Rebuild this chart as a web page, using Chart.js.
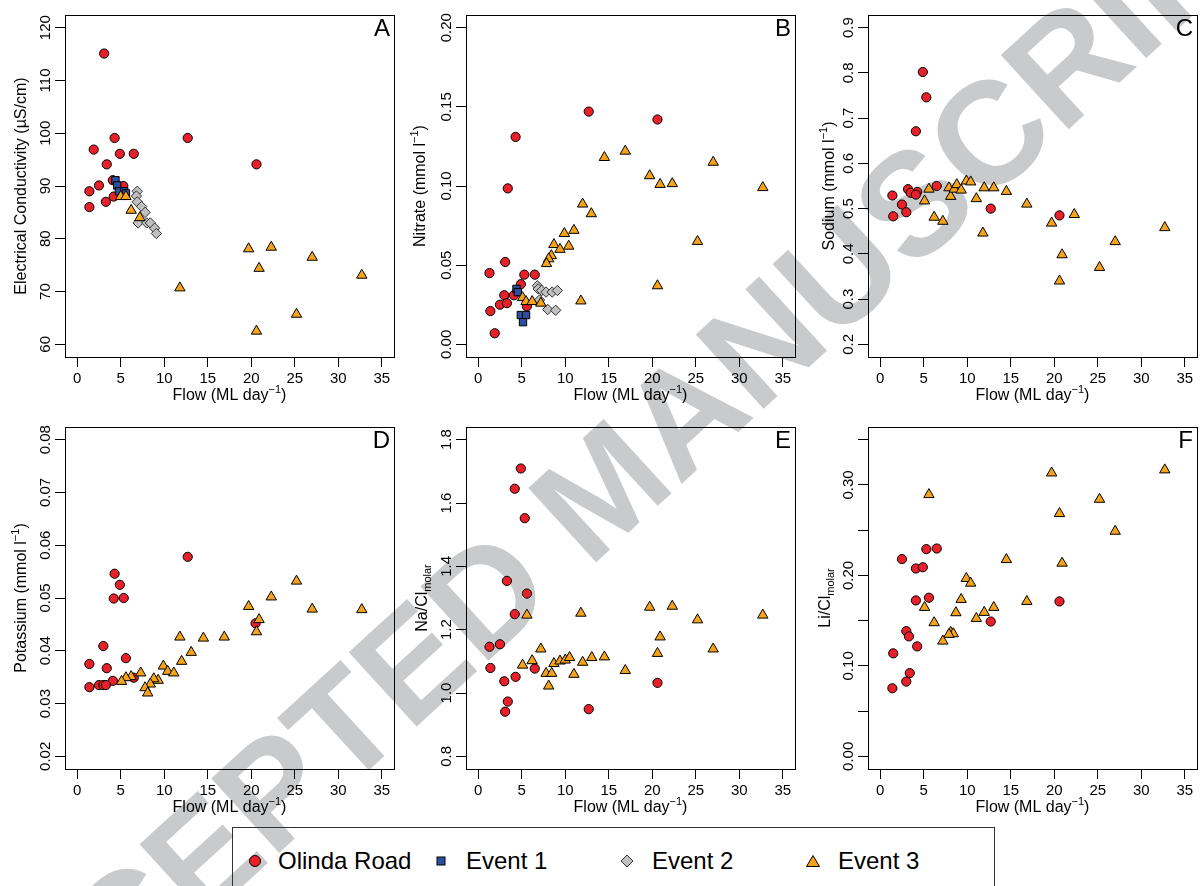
<!DOCTYPE html>
<html>
<head>
<meta charset="utf-8">
<script src="https://cdn.jsdelivr.net/npm/chart.js@4.4.0/dist/chart.umd.min.js"></script>
<style>
  body { margin: 0; background: #fff; width: 1202px; height: 886px; overflow: hidden; position: relative; font-family: "Liberation Sans", Arial, sans-serif; }
  #wm { position: absolute; left: 603px; top: 488px; transform: translate(-50%, -50%) rotate(-42.5deg);
        font: bold 146px "Liberation Sans", Arial, sans-serif; color: #c9cacc; white-space: nowrap; z-index: 0; }
  .panel { position: absolute; z-index: 1; }
  #legend { position: absolute; left: 232px; top: 827px; width: 761px; height: 80px; border: 1px solid #333; z-index: 1; }
  #legend span { position: absolute; top: 33px; transform: translateY(-50%); font-size: 24px; color: #000; white-space: nowrap; }
  #legend svg { position: absolute; top: 33px; transform: translate(-50%, -50%); }
</style>
</head>
<body>
<div id="wm">ACCEPTED MANUSCRIPT</div>

<canvas class="panel" id="pA" width="401" height="412" style="left:0px;top:0px"></canvas>
<canvas class="panel" id="pB" width="401" height="412" style="left:401px;top:0px"></canvas>
<canvas class="panel" id="pC" width="401" height="412" style="left:803px;top:0px"></canvas>
<canvas class="panel" id="pD" width="401" height="412" style="left:0px;top:412px"></canvas>
<canvas class="panel" id="pE" width="401" height="412" style="left:401px;top:412px"></canvas>
<canvas class="panel" id="pF" width="401" height="412" style="left:803px;top:412px"></canvas>

<div id="legend">
  <svg width="14" height="14" style="left:22px"><circle cx="7" cy="7" r="5.5" fill="#e8202a" stroke="#000" stroke-width="1"/></svg>
  <span style="left:45px">Olinda Road</span>
  <svg width="12" height="12" style="left:208px"><rect x="2" y="2" width="8" height="8" fill="#2c4f9e" stroke="#000" stroke-width="1"/></svg>
  <span style="left:233px">Event 1</span>
  <svg width="14" height="14" style="left:394px"><polygon points="7,1 13,7 7,13 1,7" fill="#c0c0c0" stroke="#333" stroke-width="1"/></svg>
  <span style="left:419px">Event 2</span>
  <svg width="16" height="14" style="left:580px"><polygon points="8,1.5 14.5,12.5 1.5,12.5" fill="#f5a31a" stroke="#000" stroke-width="1"/></svg>
  <span style="left:605px">Event 3</span>
</div>

<script>
// flow axis (shared)
var flowTicks = [0, 5, 10, 15, 20, 25, 30, 35];
var flowLabels = ['0', '5', '10', '15', '20', '25', '30', '35'];

// A - electrical conductivity
var olindaA = [[3.1,115.1],[4.3,99.1],[12.7,99.1],[1.9,96.9],[4.9,96.1],[6.5,96.1],[3.4,94.1],[20.6,94.1],[4.1,91.1],[2.5,90.1],[1.4,89.0],[5.3,90.0],[4.2,88.0],[3.3,87.0],[1.4,86.0]];
var event1A = [[4.4,91.1],[4.6,90.1],[4.8,89.0],[5.4,89.0],[5.6,88.6]];
var event2A = [[6.9,89.0],[6.8,88.1],[6.9,87.0],[7.4,86.1],[7.8,85.0],[7.0,83.0],[8.0,83.0],[8.4,83.0],[8.9,82.0],[9.1,81.0]];
var event3A = [[5.0,88.0],[5.6,88.0],[6.2,85.4],[7.2,84.0],[11.8,70.7],[19.7,78.1],[22.3,78.4],[20.9,74.4],[27.0,76.5],[32.7,73.1],[25.2,65.7],[20.6,62.5]];
var ticksA = [60, 70, 80, 90, 100, 110, 120];
var labelsA = ['60', '70', '80', '90', '100', '110', '120'];

// B - nitrate
var olindaB = [[12.7,0.147],[20.6,0.142],[4.3,0.131],[3.4,0.0985],[3.1,0.052],[1.3,0.045],[5.3,0.044],[6.5,0.044],[4.9,0.038],[3.0,0.031],[4.1,0.031],[2.5,0.025],[3.3,0.026],[5.6,0.024],[1.4,0.021],[1.9,0.007]];
var event1B = [[4.4,0.035],[4.55,0.033],[4.9,0.0185],[5.5,0.0185],[5.15,0.014]];
var event2B = [[6.8,0.037],[6.9,0.035],[7.3,0.034],[7.8,0.033],[8.5,0.033],[9.1,0.034],[7.05,0.028],[8.0,0.022],[8.9,0.0215]];
var event3B = [[14.5,0.118],[16.9,0.122],[27.0,0.115],[19.7,0.1065],[20.9,0.101],[22.3,0.1015],[32.7,0.099],[12.0,0.0886],[13.0,0.0825],[9.9,0.070],[11.0,0.072],[8.7,0.063],[9.4,0.060],[10.4,0.062],[8.4,0.056],[8.1,0.054],[7.85,0.051],[25.2,0.065],[20.6,0.037],[11.8,0.0274],[5.1,0.0295],[5.5,0.027],[6.2,0.027],[7.2,0.026]];
var ticksB = [0, 0.05, 0.10, 0.15, 0.20];
var labelsB = ['0.00', '0.05', '0.10', '0.15', '0.20'];

// C - sodium
var olindaC = [[4.9,0.802],[5.3,0.746],[4.1,0.671],[6.5,0.550],[3.2,0.543],[4.25,0.537],[3.5,0.535],[4.1,0.531],[1.4,0.529],[2.5,0.509],[3.0,0.492],[1.5,0.483],[12.7,0.500],[20.6,0.485]];
var event3C = [[5.6,0.543],[5.1,0.517],[6.2,0.481],[7.2,0.472],[7.9,0.546],[8.1,0.527],[8.5,0.543],[8.8,0.553],[9.3,0.541],[9.9,0.561],[10.4,0.559],[11.05,0.522],[11.8,0.446],[11.95,0.546],[13.05,0.546],[14.5,0.538],[16.85,0.510],[19.7,0.468],[22.3,0.487],[20.9,0.398],[20.6,0.340],[25.2,0.370],[27.0,0.427],[32.7,0.458]];
var ticksC = [0.2, 0.3, 0.4, 0.5, 0.6, 0.7, 0.8, 0.9];
var labelsC = ['0.2', '0.3', '0.4', '0.5', '0.6', '0.7', '0.8', '0.9'];

// D - potassium
var olindaD = [[12.7,0.0578],[4.3,0.0546],[4.9,0.0525],[4.2,0.0499],[5.35,0.0500],[20.5,0.0452],[3.0,0.0409],[1.4,0.0375],[5.6,0.0386],[3.4,0.0367],[4.1,0.0343],[2.5,0.0335],[3.0,0.0335],[3.3,0.0335],[1.4,0.0331],[6.5,0.0349]];
var event3D = [[25.2,0.0532],[22.3,0.0502],[19.7,0.0484],[27.0,0.0479],[32.7,0.0478],[20.9,0.0459],[20.6,0.0436],[11.8,0.0426],[14.5,0.0424],[16.9,0.0426],[13.1,0.0397],[12.0,0.0380],[9.9,0.0371],[10.4,0.0361],[11.1,0.0358],[7.3,0.0358],[6.2,0.0351],[5.6,0.0349],[5.1,0.0342],[9.3,0.0344],[8.8,0.0347],[8.4,0.0337],[7.8,0.0330],[8.1,0.0320]];
var ticksD = [0.02, 0.03, 0.04, 0.05, 0.06, 0.07, 0.08];
var labelsD = ['0.02', '0.03', '0.04', '0.05', '0.06', '0.07', '0.08'];

// E - Na/Cl molar
var olindaE = [[4.9,1.709],[4.2,1.645],[5.35,1.552],[3.3,1.354],[5.6,1.314],[4.2,1.249],[1.3,1.146],[2.5,1.154],[1.4,1.079],[6.5,1.077],[4.3,1.051],[3.0,1.037],[20.6,1.032],[3.4,0.973],[3.1,0.941],[12.7,0.949]];
var event3E = [[5.6,1.246],[11.8,1.252],[19.7,1.271],[22.3,1.274],[25.2,1.231],[32.7,1.246],[20.9,1.177],[20.6,1.125],[27.0,1.139],[7.2,1.139],[5.1,1.088],[6.2,1.102],[8.7,1.093],[9.4,1.101],[10.0,1.104],[10.5,1.112],[7.8,1.062],[8.45,1.062],[8.1,1.022],[11.0,1.059],[12.0,1.097],[13.05,1.112],[14.5,1.114],[16.9,1.071]];
var ticksE = [0.8, 1.0, 1.2, 1.4, 1.6, 1.8];
var labelsE = ['0.8', '1.0', '1.2', '1.4', '1.6', '1.8'];

// F - Li/Cl molar
var olindaF = [[5.3,0.229],[6.5,0.2297],[2.5,0.218],[4.1,0.2076],[4.9,0.209],[4.1,0.1723],[5.6,0.1753],[20.6,0.1712],[12.7,0.149],[3.0,0.1384],[3.3,0.1326],[4.25,0.1215],[1.5,0.1138],[3.4,0.092],[3.0,0.0826],[1.4,0.0752]];
var event3F = [[32.7,0.3166],[19.7,0.3132],[5.6,0.2893],[25.2,0.2841],[20.6,0.2683],[27.0,0.2488],[20.9,0.2135],[14.5,0.2175],[9.9,0.1966],[10.4,0.1914],[9.3,0.1734],[16.85,0.1712],[5.1,0.1646],[13.05,0.1646],[11.95,0.1591],[8.7,0.1587],[11.05,0.1524],[6.2,0.1477],[8.1,0.137],[8.4,0.1355],[7.9,0.1348],[7.2,0.1274]];
var ticksF = [0, 0.05, 0.10, 0.15, 0.20, 0.25, 0.30, 0.35];
var labelsF = ['0.00', '', '0.10', '', '0.20', '', '0.30', ''];

var FONT = '"Liberation Sans", Arial, sans-serif';
var flowTitle = [{t: 'Flow (ML day'}, {t: '\u22121', s: 'sup'}, {t: ')'}];

// R style padding of 4% each side
function pad(lo, hi) {
  var d = (hi - lo) * 0.04;
  return [lo - d, hi + d];
}

function richText(ctx, segs, x, y, angle) {
  var total = 0;
  segs.forEach(function(g) {
    ctx.font = (g.s ? '11px ' : '16px ') + FONT;
    g.w = ctx.measureText(g.t).width;
    total += g.w;
  });
  ctx.save();
  ctx.translate(x, y);
  ctx.rotate(angle);
  ctx.textBaseline = 'middle';
  ctx.textAlign = 'left';
  var cx = -total / 2;
  segs.forEach(function(g) {
    ctx.font = (g.s ? '11px ' : '16px ') + FONT;
    var dy = g.s == 'sup' ? -6 : (g.s == 'sub' ? 5 : 0);
    ctx.fillText(g.t, cx, dy);
    cx += g.w;
  });
  ctx.restore();
}

// frame, panel letter and axis titles
var framePlugin = {
  id: 'frame',
  afterDraw: function(chart, args, opts) {
    var ctx = chart.ctx, a = chart.chartArea;
    ctx.save();
    ctx.strokeStyle = '#000';
    ctx.lineWidth = 1;
    ctx.strokeRect(a.left + 0.5, a.top + 0.5, a.width, a.height);
    ctx.fillStyle = '#000';
    ctx.font = '24px ' + FONT;
    ctx.textAlign = 'right';
    ctx.textBaseline = 'alphabetic';
    ctx.fillText(opts.letter, a.right - 4, a.top + 21);
    richText(ctx, flowTitle, (a.left + a.right) / 2, a.bottom + 39, 0);
    richText(ctx, opts.yTitle, a.left - opts.yOff, (a.top + a.bottom) / 2, -Math.PI / 2);
    ctx.restore();
  }
};

var mctx = document.createElement('canvas').getContext('2d');
mctx.font = '15px ' + FONT;

function series(pts, style) {
  var ds = {
    data: pts.map(function(p) { return {x: p[0], y: p[1]}; }),
    borderColor: '#000',
    borderWidth: 1
  };
  if (style == 'olinda') { ds.pointStyle = 'circle'; ds.pointRadius = 4.6; ds.backgroundColor = '#e8202a'; ds.order = 4; }
  if (style == 'e1') { ds.pointStyle = 'rect'; ds.pointRadius = 5.2; ds.backgroundColor = '#2c4f9e'; ds.order = 3; }
  if (style == 'e2') { ds.pointStyle = 'rectRot'; ds.pointRadius = 5.2; ds.backgroundColor = '#c0c0c0'; ds.borderColor = '#333'; ds.order = 2; }
  if (style == 'e3') { ds.pointStyle = 'triangle'; ds.pointRadius = 6; ds.backgroundColor = '#f5a31a'; ds.order = 1; }
  return ds;
}

function makePanel(id, letter, yTicks, yLabels, yTitle, yOff, datasets) {
  var yr = pad(yTicks[0], yTicks[yTicks.length - 1]);
  var xr = pad(0, 35);
  var widest = Math.max.apply(null, yLabels.map(function(s) { return mctx.measureText(s).width; }));
  new Chart(document.getElementById(id), {
    type: 'scatter',
    data: {datasets: datasets},
    options: {
      responsive: false,
      animation: false,
      events: [],
      layout: {padding: {top: 15, right: 3.7, left: 0, bottom: 0}},
      plugins: {
        legend: {display: false},
        tooltip: {enabled: false},
        frame: {letter: letter, yTitle: yTitle, yOff: yOff}
      },
      scales: {
        x: {
          type: 'linear', min: xr[0], max: xr[1],
          afterBuildTicks: function(s) { s.ticks = flowTicks.map(function(v) { return {value: v}; }); },
          afterFit: function(s) { s.height = 55; },
          grid: {display: true, drawOnChartArea: false, drawTicks: true, tickLength: 10, color: '#000'},
          border: {display: false},
          ticks: {color: '#000', font: {family: FONT, size: 15}, padding: 3,
                  maxRotation: 0, autoSkip: false,
                  callback: function(v, i) { return flowLabels[i]; }}
        },
        y: {
          type: 'linear', min: yr[0], max: yr[1],
          afterBuildTicks: function(s) { s.ticks = yTicks.map(function(v) { return {value: v}; }); },
          afterFit: function(s) { s.width = 65; },
          grid: {display: true, drawOnChartArea: false, drawTicks: true, tickLength: 10, color: '#000'},
          border: {display: false},
          ticks: {color: '#000', font: {family: FONT, size: 15}, minRotation: 90, maxRotation: 90,
                  crossAlign: 'center', padding: 9.4 - widest / 2, autoSkip: false,
                  callback: function(v, i) { return yLabels[i]; }}
        }
      }
    },
    plugins: [framePlugin]
  });
}

makePanel('pA', 'A', ticksA, labelsA, [{t: 'Electrical Conductivity (\u00b5S/cm)'}], 43,
  [series(olindaA, 'olinda'), series(event1A, 'e1'), series(event2A, 'e2'), series(event3A, 'e3')]);
makePanel('pB', 'B', ticksB, labelsB, [{t: 'Nitrate (mmol l'}, {t: '\u22121', s: 'sup'}, {t: ')'}], 45,
  [series(olindaB, 'olinda'), series(event1B, 'e1'), series(event2B, 'e2'), series(event3B, 'e3')]);
makePanel('pC', 'C', ticksC, labelsC, [{t: 'Sodium (mmol l'}, {t: '\u22121', s: 'sup'}, {t: ')'}], 38,
  [series(olindaC, 'olinda'), series(event3C, 'e3')]);
makePanel('pD', 'D', ticksD, labelsD, [{t: 'Potassium (mmol l'}, {t: '\u22121', s: 'sup'}, {t: ')'}], 43,
  [series(olindaD, 'olinda'), series(event3D, 'e3')]);
makePanel('pE', 'E', ticksE, labelsE, [{t: 'Na/Cl'}, {t: 'molar', s: 'sub'}], 43,
  [series(olindaE, 'olinda'), series(event3E, 'e3')]);
makePanel('pF', 'F', ticksF, labelsF, [{t: 'Li/Cl'}, {t: 'molar', s: 'sub'}], 42,
  [series(olindaF, 'olinda'), series(event3F, 'e3')]);
</script>
</body>
</html>
